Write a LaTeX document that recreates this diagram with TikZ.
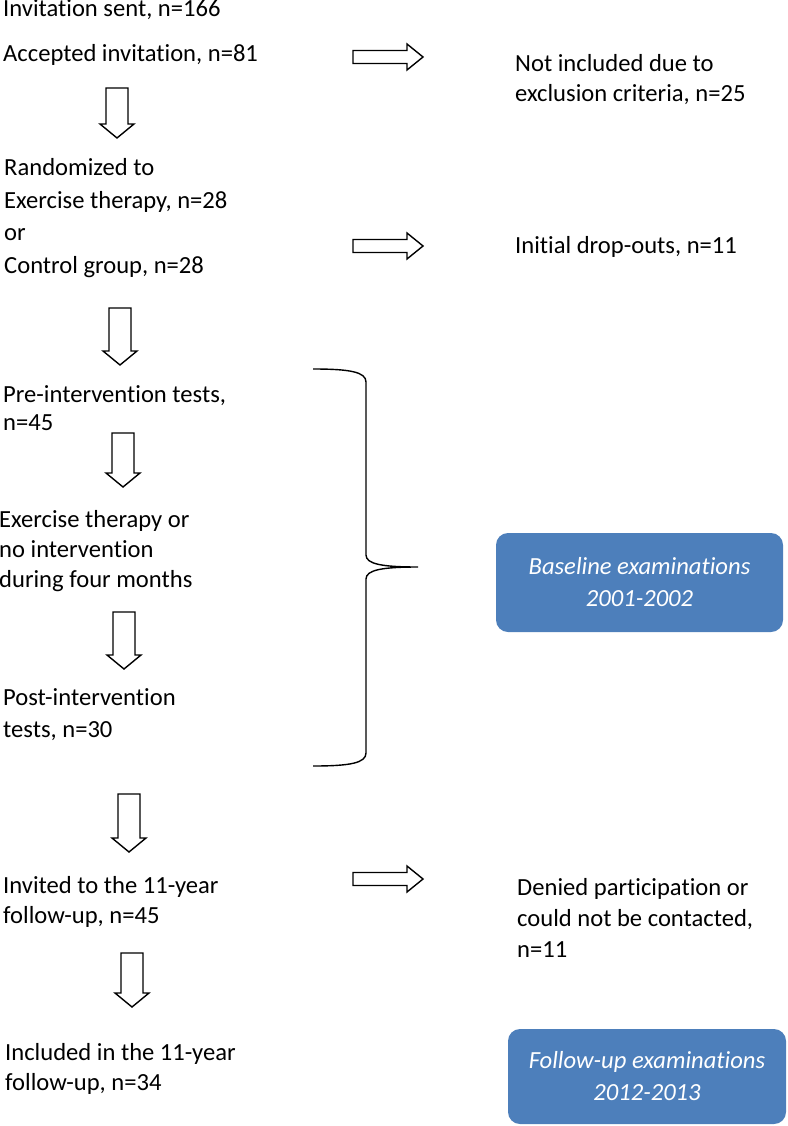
\documentclass[tikz,border=0pt]{standalone}
\usepackage{fontspec}
\setmainfont{Carlito}[Ligatures=NoCommon]

\definecolor{boxblue}{RGB}{77,127,187}

\tikzset{
  flowtext/.style={anchor=base west, inner sep=0pt, align=left,
    font=\fontsize{24.6}{30}\selectfont},
  blockarrow/.style={draw=black, line width=1.4pt, fill=white, line join=miter},
  yearbox/.style={fill=boxblue, rounded corners=12pt, text=white, align=center,
    font=\fontsize{24.6}{32}\selectfont\itshape},
  pics/dnarrow/.style={code={
    \draw[blockarrow] (-11,0) -- (-11,{#1-14}) -- (-17,{#1-14}) -- (0,#1)
      -- (17,{#1-14}) -- (11,{#1-14}) -- (11,0) -- cycle;}},
  pics/rtarrow/.style={code={
    \draw[blockarrow] (0,-6.5) -- (54,-6.5) -- (54,-13) -- (70,0)
      -- (54,13) -- (54,6.5) -- (0,6.5) -- cycle;}}
}

\begin{document}
\begin{tikzpicture}[x=1pt,y=-1pt]
\useasboundingbox (0,0) rectangle (787,1126);

% left column (nodes sit on the baseline of their last line)
\node[flowtext] (sent) at (3,17) {Invitation sent, n=166};
\node[flowtext] (accepted) at (3,62) {Accepted invitation, n=81};
\node[flowtext, font=\fontsize{24.6}{32.5}\selectfont] (random) at (4,273)
  {Randomized to\\Exercise therapy, n=28\\or\\Control group, n=28};
\node[flowtext, font=\fontsize{24.6}{28}\selectfont] (pre) at (3,430) {Pre-intervention tests,\\n=45};
\node[flowtext] (therapy) at (-1,587) {Exercise therapy or\\no intervention\\during four months};
\node[flowtext, font=\fontsize{24.6}{32}\selectfont] (post) at (3,737) {Post-intervention\\tests, n=30};
\node[flowtext] (invited) at (3,923) {Invited to the 11-year\\follow-up, n=45};
\node[flowtext] (included) at (5,1090) {Included in the 11-year\\follow-up, n=34};

% right column
\node[flowtext] (excluded) at (515,102) {Not included due to\\exclusion criteria, n=25};
\node[flowtext] (dropout) at (515,253) {Initial drop-outs, n=11};
\node[flowtext, font=\fontsize{24.6}{31}\selectfont] (denied) at (517,957)
  {Denied participation or\\could not be contacted,\\n=11};

% block arrows
\pic at (117,88) {dnarrow=50};
\pic at (120,308) {dnarrow=57};
\pic at (123,433) {dnarrow=54};
\pic at (124,612) {dnarrow=57};
\pic at (129,794) {dnarrow=58};
\pic at (132,953) {dnarrow=54};
\pic at (353,57) {rtarrow};
\pic at (353,246) {rtarrow};
\pic at (353,879) {rtarrow};

% brace
\draw[line width=1.4pt] (313,369) .. controls (350,369) and (366,372) .. (366,382)
  -- (366,555) .. controls (366,564) and (382,567) .. (418,567)
  .. controls (382,567) and (366,570) .. (366,579)
  -- (366,753) .. controls (366,763) and (350,766) .. (313,766);

% period boxes
\node[yearbox, minimum width=287pt, minimum height=99pt] (baseline) at (639.5,582.5)
  {Baseline examinations\\2001-2002};
\node[yearbox, minimum width=278pt, minimum height=95pt] (followup) at (647,1076.5)
  {Follow-up examinations\\2012-2013};
\end{tikzpicture}
\end{document}
